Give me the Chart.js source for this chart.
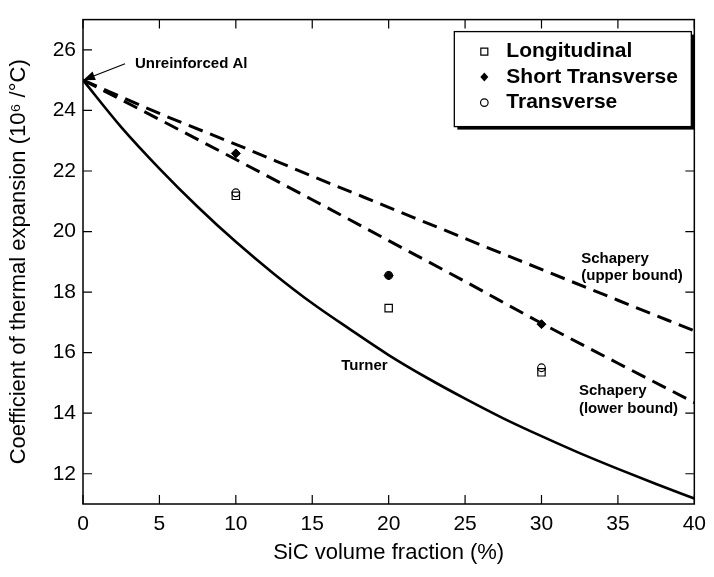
<!DOCTYPE html>
<html>
<head>
<meta charset="utf-8">
<script src="https://cdn.jsdelivr.net/npm/chart.js@4.4.1/dist/chart.umd.min.js"></script>
<style>
html, body { margin: 0; padding: 0; background: #fff; }
</style>
</head>
<body>
<canvas id="chart" width="714" height="577"></canvas>
<script>
'use strict';
// values
var turnerX = [0, 2.5, 5, 7.5, 10, 12.5, 15, 17.5, 20, 22.5, 25, 27.5, 30, 32.5, 35, 37.5, 40];
var turnerY = [25, 23.45, 22.08, 20.82, 19.66, 18.6, 17.63, 16.76, 15.92, 15.17, 14.48, 13.83, 13.24, 12.68, 12.16, 11.66, 11.18];

var schaperyX = [0, 5, 10, 15, 20, 25, 30, 35, 40];
var upperY = [25, 23.9, 22.88, 21.83, 20.8, 19.77, 18.75, 17.73, 16.72];
var lowerY = [25, 23.7, 22.38, 21.05, 19.7, 18.35, 16.97, 15.65, 14.35];

var sampleX = [10, 20, 30];
var longitudinalY = [21.18, 17.47, 15.35];
var shortTransY = [22.58, 18.55, 16.94];
var transverseY = [21.28, 18.55, 15.5];

var xTicks = [0, 5, 10, 15, 20, 25, 30, 35, 40];
var yTicks = [12, 14, 16, 18, 20, 22, 24, 26];

var legendNames = ['Longitudinal', 'Short Transverse', 'Transverse'];
var FONT = "'Liberation Sans', Arial, Helvetica, sans-serif";

function toPoints(xs, ys) {
  var pts = [];
  for (var i = 0; i < xs.length; i++) {
    pts.push({x: xs[i], y: ys[i]});
  }
  return pts;
}

function drawMarker(ctx, kind, x, y) {
  ctx.beginPath();
  if (kind === 0) {
    ctx.rect(x - 3.5, y - 3.5, 7, 7);
    ctx.fillStyle = '#fff';
    ctx.fill();
    ctx.stroke();
  } else if (kind === 1) {
    ctx.moveTo(x, y - 4.5);
    ctx.lineTo(x + 4, y);
    ctx.lineTo(x, y + 4.5);
    ctx.lineTo(x - 4, y);
    ctx.closePath();
    ctx.fillStyle = '#000';
    ctx.fill();
  } else {
    ctx.arc(x, y, 3.8, 0, Math.PI * 2);
    ctx.fillStyle = '#fff';
    ctx.fill();
    ctx.stroke();
  }
}

var decorations = {
  id: 'decorations',
  afterDraw: function (chart) {
    var ctx = chart.ctx;
    var area = chart.chartArea;
    var xs = chart.scales.x;
    var ys = chart.scales.y;
    ctx.save();

    // frame and inward ticks on all four sides
    ctx.strokeStyle = '#000';
    ctx.lineWidth = 1.5;
    ctx.strokeRect(area.left, area.top, area.right - area.left, area.bottom - area.top);
    ctx.lineWidth = 1.2;
    ctx.beginPath();
    xTicks.forEach(function (v) {
      var px = xs.getPixelForValue(v);
      ctx.moveTo(px, area.bottom); ctx.lineTo(px, area.bottom - 9);
      ctx.moveTo(px, area.top); ctx.lineTo(px, area.top + 9);
    });
    yTicks.forEach(function (v) {
      var py = ys.getPixelForValue(v);
      ctx.moveTo(area.left, py); ctx.lineTo(area.left + 9, py);
      ctx.moveTo(area.right, py); ctx.lineTo(area.right - 9, py);
    });
    ctx.stroke();

    // annotations
    ctx.fillStyle = '#000';
    ctx.font = 'bold 15px ' + FONT;
    ctx.textBaseline = 'middle';
    ctx.textAlign = 'left';
    ctx.fillText('Unreinforced Al', xs.getPixelForValue(3.4), ys.getPixelForValue(25.53));
    ctx.fillText('Turner', xs.getPixelForValue(16.9), ys.getPixelForValue(15.57));
    ctx.fillText('Schapery', xs.getPixelForValue(32.6), ys.getPixelForValue(19.1));
    ctx.fillText('(upper bound)', xs.getPixelForValue(32.6), ys.getPixelForValue(18.55));
    ctx.fillText('Schapery', xs.getPixelForValue(32.45), ys.getPixelForValue(14.73));
    ctx.fillText('(lower bound)', xs.getPixelForValue(32.45), ys.getPixelForValue(14.14));

    // arrow to the unreinforced point
    var tipX = xs.getPixelForValue(0), tipY = ys.getPixelForValue(25);
    var tailX = xs.getPixelForValue(2.75), tailY = ys.getPixelForValue(25.54);
    var ang = Math.atan2(tipY - tailY, tipX - tailX);
    ctx.lineWidth = 1.2;
    ctx.beginPath();
    ctx.moveTo(tailX, tailY);
    ctx.lineTo(tipX + 8 * Math.cos(ang + Math.PI), tipY + 8 * Math.sin(ang + Math.PI));
    ctx.stroke();
    ctx.beginPath();
    ctx.moveTo(tipX, tipY);
    ctx.lineTo(tipX - 12 * Math.cos(ang) + 4.5 * Math.sin(ang), tipY - 12 * Math.sin(ang) - 4.5 * Math.cos(ang));
    ctx.lineTo(tipX - 12 * Math.cos(ang) - 4.5 * Math.sin(ang), tipY - 12 * Math.sin(ang) + 4.5 * Math.cos(ang));
    ctx.closePath();
    ctx.fill();

    // legend box with shadow
    var bx = area.right - 240, by = area.top + 12, bw = 237, bh = 95;
    ctx.fillStyle = '#000';
    ctx.fillRect(bx + 3, by + 3, bw, bh);
    ctx.fillStyle = '#fff';
    ctx.fillRect(bx, by, bw, bh);
    ctx.lineWidth = 1.3;
    ctx.strokeRect(bx, by, bw, bh);
    ctx.font = 'bold 21px ' + FONT;
    for (var i = 0; i < legendNames.length; i++) {
      var ry = by + 20 + i * 25.5;
      ctx.strokeStyle = '#000';
      ctx.lineWidth = 1.2;
      drawMarker(ctx, i, bx + 30, ry);
      ctx.fillStyle = '#000';
      ctx.fillText(legendNames[i], bx + 52, ry);
    }
    ctx.restore();
  }
};

var ctx = document.getElementById('chart').getContext('2d');
new Chart(ctx, {
  type: 'scatter',
  data: {
    datasets: [
      {
        label: 'Longitudinal',
        data: toPoints(sampleX, longitudinalY),
        pointStyle: 'rect',
        pointRadius: 5.2,
        pointBackgroundColor: '#fff',
        pointBorderColor: '#000',
        pointBorderWidth: 1.2,
        order: 3
      },
      {
        label: 'Transverse',
        data: toPoints(sampleX, transverseY),
        pointStyle: 'circle',
        pointRadius: 3.8,
        pointBackgroundColor: 'rgba(255,255,255,0)',
        pointBorderColor: '#000',
        pointBorderWidth: 1.2,
        order: 2
      },
      {
        label: 'Short Transverse',
        data: toPoints(sampleX, shortTransY),
        pointStyle: 'rectRot',
        pointRadius: 4.5,
        pointBackgroundColor: '#000',
        pointBorderColor: '#000',
        pointBorderWidth: 1,
        order: 1
      },
      {
        label: 'Turner',
        data: toPoints(turnerX, turnerY),
        showLine: true,
        borderColor: '#000',
        borderWidth: 2.6,
        pointRadius: 0,
        cubicInterpolationMode: 'monotone',
        order: 6
      },
      {
        label: 'Schapery (upper bound)',
        data: toPoints(schaperyX, upperY),
        showLine: true,
        borderColor: '#000',
        borderWidth: 3,
        borderDash: [15, 8],
        pointRadius: 0,
        cubicInterpolationMode: 'monotone',
        order: 5
      },
      {
        label: 'Schapery (lower bound)',
        data: toPoints(schaperyX, lowerY),
        showLine: true,
        borderColor: '#000',
        borderWidth: 3,
        borderDash: [15, 8],
        pointRadius: 0,
        cubicInterpolationMode: 'monotone',
        order: 4
      }
    ]
  },
  options: {
    responsive: false,
    animation: false,
    layout: {padding: {top: 6, right: 16, left: 0, bottom: 0}},
    plugins: {
      legend: {display: false},
      tooltip: {enabled: false}
    },
    scales: {
      x: {
        type: 'linear',
        min: 0,
        max: 40,
        afterBuildTicks: function (scale) {
          scale.ticks = xTicks.map(function (v) { return {value: v}; });
        },
        afterFit: function (scale) { scale.height = 73; },
        grid: {display: false, drawTicks: false},
        border: {display: false},
        ticks: {color: '#000', padding: 8, font: {family: FONT, size: 21}, maxRotation: 0},
        title: {
          display: true,
          text: 'SiC volume fraction (%)',
          color: '#000',
          font: {family: FONT, size: 22},
          padding: {top: 0, bottom: 11}
        }
      },
      y: {
        type: 'linear',
        min: 11,
        max: 27,
        afterBuildTicks: function (scale) {
          scale.ticks = yTicks.map(function (v) { return {value: v}; });
        },
        afterFit: function (scale) { scale.width = 83; },
        grid: {display: false, drawTicks: false},
        border: {display: false},
        ticks: {color: '#000', padding: 7, font: {family: FONT, size: 21}},
        title: {
          display: true,
          text: 'Coefficient of thermal expansion (10\u2076 /\u00B0C)',
          color: '#000',
          font: {family: FONT, size: 22},
          padding: {top: 6, bottom: 0}
        }
      }
    }
  },
  plugins: [decorations]
});
</script>
</body>
</html>
